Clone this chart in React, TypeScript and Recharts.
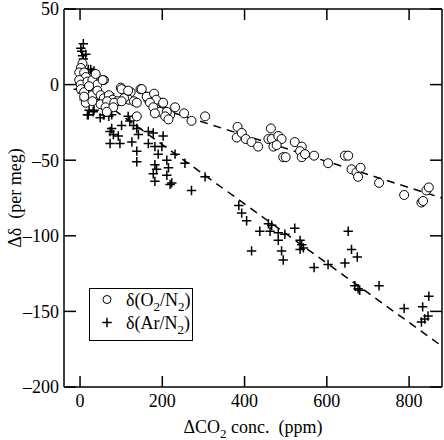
import React from 'react';
import { Legend, ReferenceLine, Scatter, ScatterChart, XAxis, YAxis } from 'recharts';

// delta(O2/N2) points: CO2 change (ppm) and delta (per meg)
const o2Co2 = [
  6, 2, -2, 10, 14, -2, 2, 18, 30, 58, 42, 2, 10, 18, 30, 42, 50, 58, 70, 79, 99, 107, 123, 119, 107, 91,
  147, 163, 131, 14, 30, 50, 66, 83, 62, 10, 22, 38, 55, 101, 117, 150, 101, 138, 166, 182, 186, 199, 207,
  219, 231, 138, 81, 65, 162, 180, 185, 170, 178, 202, 194, 182, 211, 207, 215, 253, 271, 304, 383, 381,
  393, 403, 417, 433, 464, 458, 466, 470, 482, 490, 478, 494, 500, 522, 539, 535, 539, 547, 569, 603, 644,
  652, 660, 672, 676, 682, 727, 788, 830, 834, 842, 848,
];
const o2Delta = [
  14, 11, 8, 8, 5, 3, 0, 2, 3, 3, 0, -3, -5, -9, -7, -4, -7, -9, -7, -10, -2, -4, -5, -10, -9, -11, -3, -8,
  -11, -12, -11, -13, -11, -12, -15, -8, -1, 7, 3, -3, -4, -3, -11, -12, -10, -10, -14, -12, -18, -20, -15,
  -21, -15, -18, -8, -6, -10, -12, -15, -12, -18, -19, -18, -21, -23, -19, -24, -21, -28, -35, -32, -36,
  -38, -41, -29, -36, -36, -41, -34, -36, -40, -48, -48, -38, -41, -44, -48, -46, -47, -52, -47, -47, -56,
  -58, -61, -55, -65, -73, -78, -77, -70, -68,
];

// delta(Ar/N2) points
const arCo2 = [
  8, 4, 8, 2, 6, 14, 20, 29, 26, 34, 38, 18, 0, -4, 10, 20, 32, 22, 18, 34, 49, 57, 58, 70, 77, 77, 73, 81,
  93, 73, 97, 101, 117, 130, 121, 138, 142, 126, 138, 138, 166, 178, 166, 182, 202, 190, 182, 186, 178,
  182, 211, 215, 211, 223, 219, 199, 231, 255, 271, 304, 40, 50, 26, 60, 45, 386, 393, 405, 417, 437, 458,
  466, 462, 482, 482, 490, 494, 498, 522, 535, 539, 543, 535, 569, 603, 644, 652, 660, 674, 668, 676, 680,
  727, 788, 833, 848, 830, 838, 846,
];
const arDelta = [
  27, 22, 17, 24, 19, 20, 10, 8, 10, 9, 7, 8, 1, -3, -10, -20, -18, -17, -20, -17, -22, -20, -20, -21, -20,
  -29, -31, -33, -34, -39, -39, -27, -21, -27, -24, -29, -33, -38, -44, -51, -31, -32, -39, -41, -34, -46,
  -53, -56, -59, -64, -50, -55, -60, -65, -66, -41, -46, -52, -70, -61, -5, -10, -3, -13, 5, -80, -85, -90,
  -110, -97, -92, -93, -97, -98, -103, -110, -116, -99, -95, -103, -106, -108, -109, -121, -119, -118, -97,
  -109, -114, -133, -135, -136, -133, -148, -147, -140, -157, -155, -153,
];

// dashed fit lines
const fitCo2 = [0, 880];
const o2FitDelta = [1, -75];
const arFitDelta = [-0.5, -173];

const xTicks = [0, 200, 400, 600, 800];
const yTicks = [-200, -150, -100, -50, 0, 50];

const o2Data = o2Co2.map((x, i) => ({ x, y: o2Delta[i] }));
const arData = arCo2.map((x, i) => ({ x, y: arDelta[i] }));

const FONT = '"Liberation Serif", "DejaVu Serif", serif';
const txt = { fontFamily: FONT, fontSize: 18, fill: '#000' };
const fmt = (v: number) => (v < 0 ? `\u2013${-v}` : `${v}`);

const BottomTick = ({ x, y, payload }: any) => (
  <g>
    <line x1={x} y1={y} x2={x} y2={y - 11} stroke="#000" strokeWidth={1.5} />
    <text x={x} y={y + 20} textAnchor="middle" style={txt}>
      {fmt(payload.value)}
    </text>
  </g>
);
const TopTick = ({ x, y }: any) => <line x1={x} y1={y} x2={x} y2={y + 11} stroke="#000" strokeWidth={1.5} />;
const LeftTick = ({ x, y, payload }: any) => (
  <g>
    <line x1={x} y1={y} x2={x + 12} y2={y} stroke="#000" strokeWidth={1.5} />
    <text x={x - 5} y={y} dy="0.35em" textAnchor="end" style={txt}>
      {fmt(payload.value)}
    </text>
  </g>
);
const RightTick = ({ x, y }: any) => <line x1={x} y1={y} x2={x - 12} y2={y} stroke="#000" strokeWidth={1.5} />;

const XTitle = () => (
  <text x={253} y={433} textAnchor="middle" style={txt}>
    ΔCO<tspan dy={5} style={{ fontSize: 13 }}>2</tspan>
    <tspan dy={-5}>{' conc.\u00a0 (ppm)'}</tspan>
  </text>
);
const YTitle = () => (
  <text transform="translate(20.5,198) rotate(-90)" textAnchor="middle" style={txt}>
    {'Δδ\u00a0 (per meg)'}
  </text>
);

const Circle = ({ cx, cy }: any) => <circle cx={cx} cy={cy} r={4.5} fill="#fff" stroke="#000" strokeWidth={1} />;
const Plus = ({ cx, cy }: any) => (
  <path d={`M${cx - 4.7},${cy}H${cx + 4.7}M${cx},${cy - 4.7}V${cy + 4.7}`} stroke="#000" strokeWidth={1.5} fill="none" />
);

const LegendBox = () => (
  <svg width={101} height={50} style={{ display: 'block' }}>
    <circle cx={17} cy={10.5} r={4} fill="#fff" stroke="#000" strokeWidth={1} />
    <path d="M12.3,33.5H21.7M17,28.8V38.2" stroke="#000" strokeWidth={1.5} />
    <text x={36} y={17} style={txt}>
      δ(O<tspan dy={5} style={{ fontSize: 13 }}>2</tspan>
      <tspan dy={-5}>/N</tspan>
      <tspan dy={5} style={{ fontSize: 13 }}>2</tspan>
      <tspan dy={-5}>)</tspan>
    </text>
    <text x={36} y={40} style={txt}>
      δ(Ar/N<tspan dy={5} style={{ fontSize: 13 }}>2</tspan>
      <tspan dy={-5}>)</tspan>
    </text>
  </svg>
);

export default function App() {
  return (
    <div style={{ position: 'absolute', left: 0, top: 0, width: 444, height: 440, background: '#fff', fontFamily: FONT }}>
      <ScatterChart width={444} height={440} margin={{ top: 0, right: 0, bottom: 13, left: 8 }} style={{ fontFamily: FONT }}>
        <XAxis
          xAxisId="b"
          type="number"
          dataKey="x"
          domain={[-39, 880]}
          ticks={xTicks}
          interval={0}
          height={40}
          tickSize={0}
          tickMargin={0}
          tickLine={false}
          axisLine={{ stroke: '#000', strokeWidth: 1.5 }}
          tick={<BottomTick />}
          label={<XTitle />}
          allowDataOverflow
        />
        <XAxis
          xAxisId="t"
          orientation="top"
          type="number"
          dataKey="x"
          domain={[-39, 880]}
          ticks={xTicks}
          interval={0}
          height={9}
          tickSize={0}
          tickMargin={0}
          tickLine={false}
          axisLine={{ stroke: '#000', strokeWidth: 1.5 }}
          tick={<TopTick />}
          allowDataOverflow
        />
        <YAxis
          yAxisId="l"
          type="number"
          dataKey="y"
          domain={[-200, 50]}
          ticks={yTicks}
          interval={0}
          width={56}
          tickSize={0}
          tickMargin={0}
          tickLine={false}
          axisLine={{ stroke: '#000', strokeWidth: 1.5 }}
          tick={<LeftTick />}
          label={<YTitle />}
          allowDataOverflow
        />
        <YAxis
          yAxisId="r"
          orientation="right"
          type="number"
          dataKey="y"
          domain={[-200, 50]}
          ticks={yTicks}
          interval={0}
          width={2}
          tickSize={0}
          tickMargin={0}
          tickLine={false}
          axisLine={{ stroke: '#000', strokeWidth: 1.5 }}
          tick={<RightTick />}
          allowDataOverflow
        />
        <ReferenceLine
          xAxisId="b"
          yAxisId="l"
          segment={[{ x: fitCo2[0], y: o2FitDelta[0] }, { x: fitCo2[1], y: o2FitDelta[1] }]}
          stroke="#000"
          strokeWidth={1.5}
          strokeDasharray="8 6"
        />
        <ReferenceLine
          xAxisId="b"
          yAxisId="l"
          segment={[{ x: fitCo2[0], y: arFitDelta[0] }, { x: fitCo2[1], y: arFitDelta[1] }]}
          stroke="#000"
          strokeWidth={1.5}
          strokeDasharray="8 6"
        />
        <Scatter
          name="Ar"
          data={arData}
          xAxisId="b"
          yAxisId="l"
          shape={<Plus />}
          isAnimationActive={false}
        />
        <Scatter
          name="O2"
          data={o2Data}
          xAxisId="b"
          yAxisId="l"
          shape={<Circle />}
          isAnimationActive={false}
        />
        <Legend
          layout="vertical"
          align="center"
          verticalAlign="middle"
          content={() => <LegendBox />}
          wrapperStyle={{
            position: 'absolute',
            left: 89,
            top: 288,
            width: 104,
            height: 53,
            border: '1.5px solid #000',
            boxSizing: 'border-box',
            background: '#fff',
          }}
        />
      </ScatterChart>
    </div>
  );
}
